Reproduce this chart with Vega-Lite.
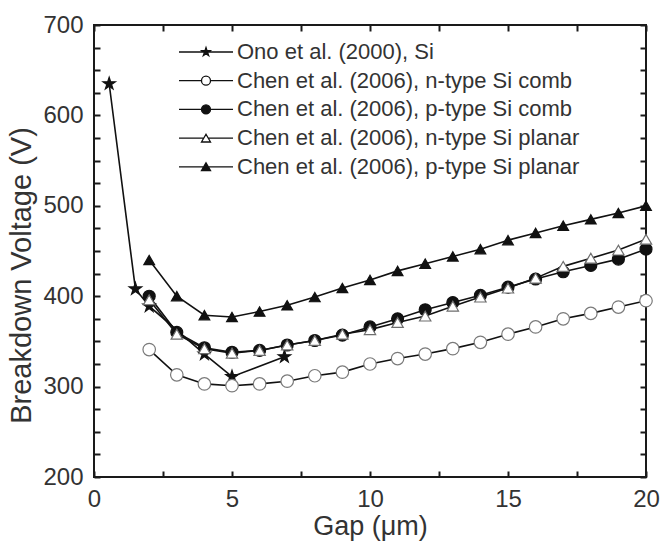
{
  "$schema": "https://vega.github.io/schema/vega-lite/v6.json",
  "width": 552,
  "height": 452,
  "autosize": {"type": "none"},
  "padding": {"left": 94, "top": 25, "right": 18, "bottom": 66},
  "background": "white",
  "config": {
    "view": {"stroke": "#1a1a1a", "strokeWidth": 2},
    "font": "Liberation Sans",
    "axis": {
      "domain": false,
      "grid": false,
      "tickColor": "#1a1a1a",
      "tickWidth": 2,
      "labelFont": "Liberation Sans",
      "labelFontSize": 24,
      "labelColor": "#333333",
      "titleFont": "Liberation Sans",
      "titleFontSize": 28,
      "titleFontWeight": "normal",
      "titleColor": "#333333"
    },
    "legend": {
      "labelFont": "Liberation Sans",
      "labelFontSize": 22,
      "labelColor": "#333333",
      "labelLimit": 600
    }
  },
  "data": {
    "values": [
      {"series": "Ono et al. (2000), Si", "gap": 0.55, "voltage": 635},
      {"series": "Ono et al. (2000), Si", "gap": 1.5, "voltage": 408},
      {"series": "Ono et al. (2000), Si", "gap": 2, "voltage": 389},
      {"series": "Ono et al. (2000), Si", "gap": 4, "voltage": 336},
      {"series": "Ono et al. (2000), Si", "gap": 5, "voltage": 311},
      {"series": "Ono et al. (2000), Si", "gap": 6.9, "voltage": 333},

      {"series": "Chen et al. (2006), n-type Si comb", "gap": 2, "voltage": 341},
      {"series": "Chen et al. (2006), n-type Si comb", "gap": 3, "voltage": 313},
      {"series": "Chen et al. (2006), n-type Si comb", "gap": 4, "voltage": 303},
      {"series": "Chen et al. (2006), n-type Si comb", "gap": 5, "voltage": 301},
      {"series": "Chen et al. (2006), n-type Si comb", "gap": 6, "voltage": 303},
      {"series": "Chen et al. (2006), n-type Si comb", "gap": 7, "voltage": 306},
      {"series": "Chen et al. (2006), n-type Si comb", "gap": 8, "voltage": 312},
      {"series": "Chen et al. (2006), n-type Si comb", "gap": 9, "voltage": 316},
      {"series": "Chen et al. (2006), n-type Si comb", "gap": 10, "voltage": 325},
      {"series": "Chen et al. (2006), n-type Si comb", "gap": 11, "voltage": 331},
      {"series": "Chen et al. (2006), n-type Si comb", "gap": 12, "voltage": 336},
      {"series": "Chen et al. (2006), n-type Si comb", "gap": 13, "voltage": 342},
      {"series": "Chen et al. (2006), n-type Si comb", "gap": 14, "voltage": 349},
      {"series": "Chen et al. (2006), n-type Si comb", "gap": 15, "voltage": 358},
      {"series": "Chen et al. (2006), n-type Si comb", "gap": 16, "voltage": 366},
      {"series": "Chen et al. (2006), n-type Si comb", "gap": 17, "voltage": 375},
      {"series": "Chen et al. (2006), n-type Si comb", "gap": 18, "voltage": 381},
      {"series": "Chen et al. (2006), n-type Si comb", "gap": 19, "voltage": 388},
      {"series": "Chen et al. (2006), n-type Si comb", "gap": 20, "voltage": 395},

      {"series": "Chen et al. (2006), p-type Si comb", "gap": 2, "voltage": 400},
      {"series": "Chen et al. (2006), p-type Si comb", "gap": 3, "voltage": 360},
      {"series": "Chen et al. (2006), p-type Si comb", "gap": 4, "voltage": 343},
      {"series": "Chen et al. (2006), p-type Si comb", "gap": 5, "voltage": 338},
      {"series": "Chen et al. (2006), p-type Si comb", "gap": 6, "voltage": 340},
      {"series": "Chen et al. (2006), p-type Si comb", "gap": 7, "voltage": 346},
      {"series": "Chen et al. (2006), p-type Si comb", "gap": 8, "voltage": 351},
      {"series": "Chen et al. (2006), p-type Si comb", "gap": 9, "voltage": 357},
      {"series": "Chen et al. (2006), p-type Si comb", "gap": 10, "voltage": 366},
      {"series": "Chen et al. (2006), p-type Si comb", "gap": 11, "voltage": 375},
      {"series": "Chen et al. (2006), p-type Si comb", "gap": 12, "voltage": 385},
      {"series": "Chen et al. (2006), p-type Si comb", "gap": 13, "voltage": 393},
      {"series": "Chen et al. (2006), p-type Si comb", "gap": 14, "voltage": 401},
      {"series": "Chen et al. (2006), p-type Si comb", "gap": 15, "voltage": 410},
      {"series": "Chen et al. (2006), p-type Si comb", "gap": 16, "voltage": 419},
      {"series": "Chen et al. (2006), p-type Si comb", "gap": 17, "voltage": 427},
      {"series": "Chen et al. (2006), p-type Si comb", "gap": 18, "voltage": 434},
      {"series": "Chen et al. (2006), p-type Si comb", "gap": 19, "voltage": 441},
      {"series": "Chen et al. (2006), p-type Si comb", "gap": 20, "voltage": 452},

      {"series": "Chen et al. (2006), n-type Si planar", "gap": 2, "voltage": 396},
      {"series": "Chen et al. (2006), n-type Si planar", "gap": 3, "voltage": 358},
      {"series": "Chen et al. (2006), n-type Si planar", "gap": 4, "voltage": 342},
      {"series": "Chen et al. (2006), n-type Si planar", "gap": 5, "voltage": 337},
      {"series": "Chen et al. (2006), n-type Si planar", "gap": 6, "voltage": 340},
      {"series": "Chen et al. (2006), n-type Si planar", "gap": 7, "voltage": 346},
      {"series": "Chen et al. (2006), n-type Si planar", "gap": 8, "voltage": 351},
      {"series": "Chen et al. (2006), n-type Si planar", "gap": 9, "voltage": 358},
      {"series": "Chen et al. (2006), n-type Si planar", "gap": 10, "voltage": 363},
      {"series": "Chen et al. (2006), n-type Si planar", "gap": 11, "voltage": 371},
      {"series": "Chen et al. (2006), n-type Si planar", "gap": 12, "voltage": 378},
      {"series": "Chen et al. (2006), n-type Si planar", "gap": 13, "voltage": 389},
      {"series": "Chen et al. (2006), n-type Si planar", "gap": 14, "voltage": 399},
      {"series": "Chen et al. (2006), n-type Si planar", "gap": 15, "voltage": 409},
      {"series": "Chen et al. (2006), n-type Si planar", "gap": 16, "voltage": 420},
      {"series": "Chen et al. (2006), n-type Si planar", "gap": 17, "voltage": 433},
      {"series": "Chen et al. (2006), n-type Si planar", "gap": 18, "voltage": 442},
      {"series": "Chen et al. (2006), n-type Si planar", "gap": 19, "voltage": 451},
      {"series": "Chen et al. (2006), n-type Si planar", "gap": 20, "voltage": 463},

      {"series": "Chen et al. (2006), p-type Si planar", "gap": 2, "voltage": 440},
      {"series": "Chen et al. (2006), p-type Si planar", "gap": 3, "voltage": 400},
      {"series": "Chen et al. (2006), p-type Si planar", "gap": 4, "voltage": 379},
      {"series": "Chen et al. (2006), p-type Si planar", "gap": 5, "voltage": 377},
      {"series": "Chen et al. (2006), p-type Si planar", "gap": 6, "voltage": 383},
      {"series": "Chen et al. (2006), p-type Si planar", "gap": 7, "voltage": 390},
      {"series": "Chen et al. (2006), p-type Si planar", "gap": 8, "voltage": 399},
      {"series": "Chen et al. (2006), p-type Si planar", "gap": 9, "voltage": 409},
      {"series": "Chen et al. (2006), p-type Si planar", "gap": 10, "voltage": 418},
      {"series": "Chen et al. (2006), p-type Si planar", "gap": 11, "voltage": 428},
      {"series": "Chen et al. (2006), p-type Si planar", "gap": 12, "voltage": 436},
      {"series": "Chen et al. (2006), p-type Si planar", "gap": 13, "voltage": 444},
      {"series": "Chen et al. (2006), p-type Si planar", "gap": 14, "voltage": 452},
      {"series": "Chen et al. (2006), p-type Si planar", "gap": 15, "voltage": 462},
      {"series": "Chen et al. (2006), p-type Si planar", "gap": 16, "voltage": 470},
      {"series": "Chen et al. (2006), p-type Si planar", "gap": 17, "voltage": 478},
      {"series": "Chen et al. (2006), p-type Si planar", "gap": 18, "voltage": 485},
      {"series": "Chen et al. (2006), p-type Si planar", "gap": 19, "voltage": 492},
      {"series": "Chen et al. (2006), p-type Si planar", "gap": 20, "voltage": 500}
    ]
  },
  "resolve": {
    "axis": {"x": "independent", "y": "independent"},
    "scale": {"shape": "independent", "fill": "independent", "stroke": "independent"}
  },
  "layer": [
    {
      "mark": {"type": "line", "strokeWidth": 1.6, "color": "#111111", "clip": true},
      "encoding": {
        "x": {
          "field": "gap", "type": "quantitative",
          "scale": {"domain": [0, 20], "nice": false},
          "axis": {
            "orient": "bottom",
            "title": "Gap (μm)",
            "titleFontSize": 27,
            "values": [0, 2.5, 5, 7.5, 10, 12.5, 15, 17.5, 20],
            "labelExpr": "datum.value % 5 === 0 ? datum.label : ''",
            "tickSize": -6,
            "labelPadding": 16,
            "labelFlush": false,
            "titlePadding": 2
          }
        },
        "y": {
          "field": "voltage", "type": "quantitative",
          "scale": {"domain": [200, 700], "nice": false},
          "axis": {
            "orient": "left",
            "title": "Breakdown Voltage (V)",
            "titleFontSize": 29,
            "values": [200, 225, 250, 275, 300, 325, 350, 375, 400, 425, 450, 475, 500, 525, 550, 575, 600, 625, 650, 675, 700],
            "labelExpr": "datum.value % 100 === 0 ? datum.label : ''",
            "tickSize": -6,
            "labelPadding": 17,
            "labelFlush": false,
            "titlePadding": 6,
            "titleY": 250
          }
        },
        "detail": {"field": "series", "type": "nominal"}
      }
    },
    {
      "mark": {"type": "point", "filled": true, "strokeWidth": 1.2, "opacity": 1},
      "encoding": {
        "x": {
          "field": "gap", "type": "quantitative",
          "axis": {
            "orient": "top",
            "title": null,
            "values": [0, 2.5, 5, 7.5, 10, 12.5, 15, 17.5, 20],
            "labels": false,
            "tickSize": -6
          }
        },
        "y": {
          "field": "voltage", "type": "quantitative",
          "axis": {
            "orient": "right",
            "title": null,
            "values": [200, 225, 250, 275, 300, 325, 350, 375, 400, 425, 450, 475, 500, 525, 550, 575, 600, 625, 650, 675, 700],
            "labels": false,
            "tickSize": -6
          }
        },
        "shape": {
          "field": "series", "type": "nominal",
          "scale": {
            "domain": ["Ono et al. (2000), Si", "Chen et al. (2006), n-type Si comb", "Chen et al. (2006), p-type Si comb", "Chen et al. (2006), n-type Si planar", "Chen et al. (2006), p-type Si planar"],
            "range": ["M0,-1L0.2245,-0.309L0.951,-0.309L0.363,0.118L0.588,0.809L0,0.382L-0.588,0.809L-0.363,0.118L-0.951,-0.309L-0.2245,-0.309Z", "circle", "circle", "triangle-up", "triangle-up"]
          },
          "legend": null
        },
        "fill": {
          "field": "series", "type": "nominal",
          "scale": {
            "domain": ["Ono et al. (2000), Si", "Chen et al. (2006), n-type Si comb", "Chen et al. (2006), p-type Si comb", "Chen et al. (2006), n-type Si planar", "Chen et al. (2006), p-type Si planar"],
            "range": ["#111111", "#ffffff", "#111111", "#ffffff", "#111111"]
          },
          "legend": null
        },
        "stroke": {
          "field": "series", "type": "nominal",
          "scale": {
            "domain": ["Ono et al. (2000), Si", "Chen et al. (2006), n-type Si comb", "Chen et al. (2006), p-type Si comb", "Chen et al. (2006), n-type Si planar", "Chen et al. (2006), p-type Si planar"],
            "range": ["#111111", "#7a7a7a", "#111111", "#6e6e6e", "#111111"]
          },
          "legend": null
        },
        "size": {
          "field": "series", "type": "nominal",
          "scale": {
            "domain": ["Ono et al. (2000), Si", "Chen et al. (2006), n-type Si comb", "Chen et al. (2006), p-type Si comb", "Chen et al. (2006), n-type Si planar", "Chen et al. (2006), p-type Si planar"],
            "range": [170, 115, 115, 160, 160]
          },
          "legend": null
        }
      }
    },
    {
      "transform": [{"filter": "datum.gap < -100"}],
      "mark": {"type": "point", "filled": true, "strokeWidth": 1.3, "opacity": 1},
      "encoding": {
        "x": {"field": "gap", "type": "quantitative", "axis": null},
        "y": {"field": "voltage", "type": "quantitative", "axis": null},
        "shape": {
          "field": "series", "type": "nominal",
          "scale": {
            "domain": ["Ono et al. (2000), Si", "Chen et al. (2006), n-type Si comb", "Chen et al. (2006), p-type Si comb", "Chen et al. (2006), n-type Si planar", "Chen et al. (2006), p-type Si planar"],
            "range": [
              "M-6,0H-0.4M0.4,0H6M0,-1L0.2245,-0.309L0.951,-0.309L0.363,0.118L0.588,0.809L0,0.382L-0.588,0.809L-0.363,0.118L-0.951,-0.309L-0.2245,-0.309Z",
              "M-6,0H-1M1,0H6M1,0C1,0.55,0.55,1,0,1C-0.55,1,-1,0.55,-1,0C-1,-0.55,-0.55,-1,0,-1C0.55,-1,1,-0.55,1,0Z",
              "M-6,0H-1M1,0H6M1,0C1,0.55,0.55,1,0,1C-0.55,1,-1,0.55,-1,0C-1,-0.55,-0.55,-1,0,-1C0.55,-1,1,-0.55,1,0Z",
              "M-6,0H-0.5M0.5,0H6M0,-0.866L1,0.866L-1,0.866Z",
              "M-6,0H-0.5M0.5,0H6M0,-0.866L1,0.866L-1,0.866Z"
            ]
          },
          "legend": {
            "title": null,
            "orient": "none",
            "legendX": 101,
            "legendY": 16,
            "padding": 0,
            "symbolSize": 81,
            "symbolStrokeWidth": 1.3,
            "labelOffset": 20,
            "rowPadding": 6.7
          }
        },
        "fill": {
          "field": "series", "type": "nominal",
          "scale": {
            "domain": ["Ono et al. (2000), Si", "Chen et al. (2006), n-type Si comb", "Chen et al. (2006), p-type Si comb", "Chen et al. (2006), n-type Si planar", "Chen et al. (2006), p-type Si planar"],
            "range": ["#111111", "#ffffff", "#111111", "#ffffff", "#111111"]
          },
          "legend": {
            "title": null,
            "orient": "none",
            "legendX": 101,
            "legendY": 16,
            "padding": 0,
            "symbolSize": 81,
            "symbolStrokeWidth": 1.3,
            "labelOffset": 20,
            "rowPadding": 6.7
          }
        },
        "stroke": {
          "field": "series", "type": "nominal",
          "scale": {
            "domain": ["Ono et al. (2000), Si", "Chen et al. (2006), n-type Si comb", "Chen et al. (2006), p-type Si comb", "Chen et al. (2006), n-type Si planar", "Chen et al. (2006), p-type Si planar"],
            "range": ["#111111", "#111111", "#111111", "#111111", "#111111"]
          },
          "legend": {
            "title": null,
            "orient": "none",
            "legendX": 101,
            "legendY": 16,
            "padding": 0,
            "symbolSize": 81,
            "symbolStrokeWidth": 1.3,
            "labelOffset": 20,
            "rowPadding": 6.7
          }
        }
      }
    }
  ]
}
